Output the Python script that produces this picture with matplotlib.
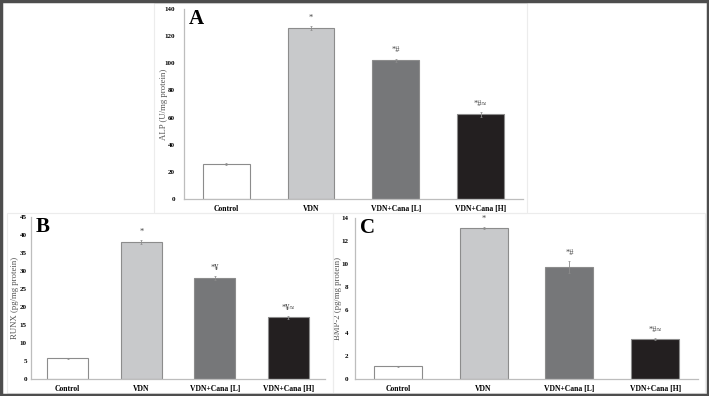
import matplotlib.pyplot as plt
from matplotlib.patches import Rectangle

groups = ["Control", "VDN", "VDN+Cana [L]", "VDN+Cana [H]"]
colors = ["#ffffff", "#c8c9cb", "#767779", "#231f20"]

alp = [25.7, 126.0, 102.3, 62.3]
alp_err = [0.5, 1.5, 1.2, 1.8]
alp_marks = ["", "*", "*#", "*#\u2248"]

runx = [5.8, 38.1, 28.0, 17.1]
runx_err = [0.15, 0.5, 0.5, 0.3]
runx_marks = ["", "*", "*\u00a5", "*\u00a5\u2248"]

bmp = [1.12, 13.15, 9.75, 3.45]
bmp_err = [0.05, 0.1, 0.5, 0.1]
bmp_marks = ["", "*", "*#", "*#\u2248"]

plt.rcParams['font.family'] = ['Liberation Serif', 'DejaVu Serif']

fig = plt.figure(figsize=(7.09, 3.96), dpi=100)

# faint panel frames and dark outer border
for x0, y0, w, h in [(154, 3, 373, 210), (7, 213, 326, 180), (333, 213, 372, 180)]:
    fig.patches.append(Rectangle((x0 / 709, 1 - (y0 + h) / 396), w / 709, h / 396,
                                 transform=fig.transFigure, fill=False,
                                 edgecolor="#ececec", lw=0.8))
fig.patches.append(Rectangle((0.001, 0.002), 0.998, 0.996, transform=fig.transFigure,
                             fill=False, edgecolor="#4d4d4d", lw=2.5))


def panel(rect, vals, errs, marks, ymax, step, ylabel, letter, bw, tpad, lx):
    ax = fig.add_axes(rect)
    x = range(len(groups))
    ax.bar(x, vals, width=bw, color=colors, edgecolor="#8c8c8c", linewidth=0.8,
           yerr=errs, error_kw=dict(ecolor="#8c8c8c", elinewidth=0.6, capsize=0.8, capthick=0.5))
    for i, m in enumerate(marks):
        if m:
            ax.annotate(m, (i, vals[i] + errs[i]), xytext=(0, 3), textcoords="offset points",
                        ha="center", va="bottom", fontsize=6, color="#444444",
                        annotation_clip=False)
    ax.set_xlim(-0.5, 3.5)
    ax.set_ylim(0, ymax)
    ax.set_yticks(range(0, ymax + 1, step))
    ax.set_xticks(list(x))
    ax.set_xticklabels(groups, fontsize=5.5, fontweight="bold")
    ax.tick_params(axis="y", labelsize=5, length=0, pad=tpad)
    ax.tick_params(axis="x", length=0, pad=4)
    for lab in ax.get_yticklabels():
        lab.set_fontweight("bold")
    for s in ["top", "right"]:
        ax.spines[s].set_visible(False)
    for s in ["left", "bottom"]:
        ax.spines[s].set_color("#bdbdbd")
        ax.spines[s].set_linewidth(0.9)
    ax.set_ylabel(ylabel, fontsize=6.3, color="#555555")
    ax.yaxis.set_label_coords(lx, 0.5)
    ax.text(0.015, 1.0, letter, transform=ax.transAxes, fontsize=15, fontweight="bold",
            ha="left", va="top")
    return ax


panel([0.2595, 0.4975, 0.478, 0.4798], alp, alp_err, alp_marks, 140, 20,
      "ALP (U/mg protein)", "A", 0.55, 6.5, -0.047)
panel([0.0437, 0.0429, 0.4147, 0.409], runx, runx_err, runx_marks, 45, 5,
      "RUNX (pg/mg protein)", "B", 0.56, 3, -0.041)
panel([0.5007, 0.0429, 0.4838, 0.4066], bmp, bmp_err, bmp_marks, 14, 2,
      "BMP-2 (pg/mg protein)", "C", 0.56, 5, -0.038)

fig.savefig("out.png", dpi=100)
